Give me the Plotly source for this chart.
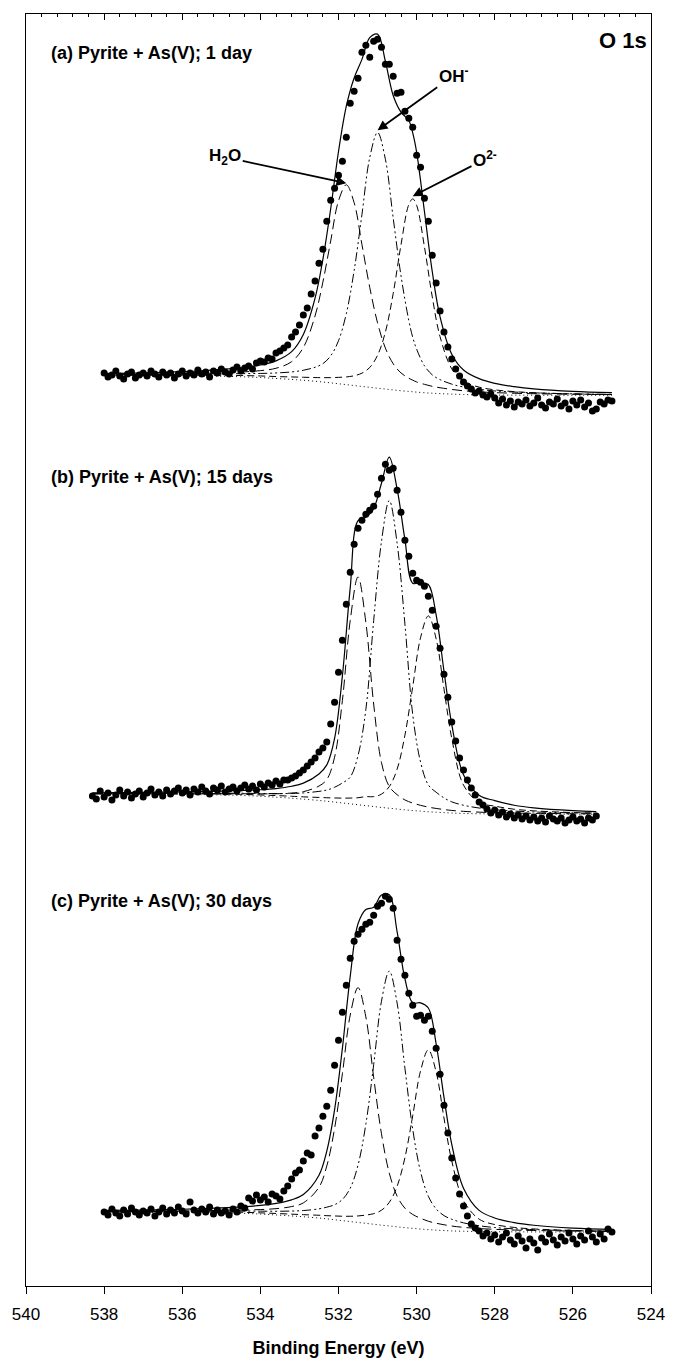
import numpy as np
import plotly.graph_objects as go
from plotly.subplots import make_subplots

# ---------------- O 1s spectra: pyrite + As(V) -----------------
# Measured points are on a 0.1 eV acquisition grid.

# (a) 1 day : 538.0 -> 525.0 eV
A_SCAN = (538.0, 525.0)
A_DATA = [60, 56, 58, 62, 57, 54, 59, 61, 55, 58, 60,
          57, 62, 59, 56, 61, 58, 60, 55, 59, 62,
          57, 60, 58, 63, 59, 61, 56, 62, 60, 64,
          61, 59, 63, 66, 62, 65, 67, 64, 70, 72,
          71, 75, 74, 80, 82, 85, 88, 96, 101, 108,
          118, 125, 139, 152, 170, 184, 212, 233, 245, 258,
          272, 296, 330, 342, 355, 381, 388, 376, 392, 394,
          386, 369, 369, 357, 340, 341, 322, 315, 306, 278,
          266, 235, 212, 178, 150, 122, 101, 86, 74, 64,
          57, 51, 47, 44, 40, 42, 38, 36, 39, 35,
          30, 34, 28, 32, 26, 31, 29, 33, 27, 30,
          35, 28, 25, 31, 29, 34, 27, 30, 24, 32,
          28, 33, 26, 30, 22, 24, 31, 29, 33, 32]

A_CURVE_E = [538.0, 537.0, 536.0, 535.5, 535.0, 534.5, 534.0, 533.6, 533.2, 532.9,
             532.6, 532.4, 532.2, 532.0, 531.8, 531.6, 531.4, 531.2, 531.0, 530.8,
             530.6, 530.4, 530.2, 530.1, 530.0, 529.8, 529.6, 529.4, 529.1, 528.8,
             528.4, 528.0, 527.5, 527.0, 526.0, 525.0]
A_FIT = [59.6, 60.2, 61.4, 62.3, 63.6, 65.3, 68.1, 72.2, 81.4, 98.6,
         134.9, 173.8, 224.4, 281.7, 327.1, 355.3, 373.9, 395.6, 399.2, 372.0,
         337.8, 321.1, 312.8, 300.4, 281.1, 221.7, 161.6, 116.3, 78.9, 63.1,
         54.4, 49.7, 46.4, 44.2, 41.7, 40.4]
A_H2O = [58.4, 58.6, 59.2, 59.6, 60.2, 61.0, 62.4, 64.8, 71.4, 85.6,
         117.2, 151.0, 192.2, 232.3, 248.4, 230.5, 188.6, 145.7, 110.2, 85.0,
         69.3, 60.1, 54.8, 52.9, 51.1, 48.7, 46.7, 45.3, 43.6, 42.3,
         41.2, 40.4, 39.8, 39.3, 38.8, 38.4]
A_OH = [58.3, 58.4, 58.7, 58.9, 59.2, 59.4, 59.6, 60.1, 61.1, 62.8,
        65.8, 69.4, 77.2, 92.3, 119.4, 162.5, 218.6, 275.7, 300.8, 274.0,
        215.1, 157.3, 112.6, 95.8, 83.9, 67.3, 58.2, 53.4, 48.9, 46.0,
        43.7, 42.1, 41.0, 40.2, 39.2, 38.7]
A_O2 = [57.9, 57.8, 57.9, 57.8, 57.8, 57.5, 57.1, 56.5, 56.1, 55.8,
        55.5, 55.4, 55.4, 55.7, 56.1, 57.3, 59.9, 65.6, 77.8, 101.0,
        139.6, 188.3, 228.6, 234.3, 227.9, 186.3, 136.3, 96.4, 64.2, 51.8,
        45.9, 43.2, 41.4, 40.3, 39.1, 38.5]
A_BG = [57.5, 57.3, 57.2, 57.0, 56.8, 56.3, 55.5, 54.6, 53.6, 52.8,
        51.8, 51.0, 50.2, 49.3, 48.4, 47.5, 46.6, 45.7, 44.8, 44.0,
        43.1, 42.3, 41.6, 41.3, 40.9, 40.3, 39.8, 39.4, 38.9, 38.5,
        38.2, 38.0, 37.9, 37.8, 37.7, 37.6]

# (b) 15 days : 538.3 -> 525.4 eV
B_SCAN = (538.3, 525.4)
B_DATA = [66, 63, 71, 65, 69, 62, 67, 72, 66, 70,
          64, 68, 71, 65, 69, 73, 67, 70, 66, 72,
          68, 71, 74, 69, 72, 67, 73, 70, 75, 71,
          68, 74, 72, 76, 70, 73, 75, 71, 74, 77,
          73, 76, 72, 78, 75, 79, 77, 81, 78, 82,
          82, 84, 86, 89, 92, 96, 100, 104, 110, 114,
          120, 138, 160, 190, 222, 258, 290, 318, 334, 342,
          348, 352, 356, 368, 384, 398, 392, 394, 372, 350,
          322, 306, 289, 282, 280, 276, 266, 252, 236, 214,
          188, 165, 140, 121, 104, 92, 82, 74, 67, 60,
          57, 53, 49, 52, 47, 50, 45, 48, 44, 47,
          43, 46, 42, 45, 41, 44, 40, 46, 43, 41,
          44, 39, 42, 45, 41, 43, 39, 44, 42, 46]

B_CURVE_E = [538.3, 537.0, 536.0, 535.5, 535.0, 534.5, 534.0, 533.6, 533.2, 532.9,
             532.5, 532.3, 532.1, 531.9, 531.7, 531.5, 531.3, 531.1, 530.9, 530.7,
             530.5, 530.3, 530.1, 529.9, 529.7, 529.5, 529.3, 529.1, 528.8, 528.4,
             528.0, 527.5, 527.0, 526.0, 525.4]
B_FIT = [69.2, 69.6, 70.1, 70.5, 71.0, 71.6, 72.3, 73.5, 75.8, 78.9,
         88.1, 97.2, 123.8, 186.5, 274.3, 341.6, 345.0, 353.9, 379.0, 405.1,
         373.4, 322.8, 279.0, 279.5, 277.7, 247.1, 191.2, 137.5, 87.3, 66.8,
         61.4, 56.8, 54.2, 51.4, 50.5]
B_H2O = [68.3, 68.3, 68.4, 68.4, 68.4, 68.3, 68.2, 68.3, 69.0, 70.4,
         76.0, 82.5, 104.9, 161.7, 241.7, 285.3, 239.9, 158.1, 99.5, 75.5,
         67.4, 62.1, 59.0, 56.7, 54.9, 53.6, 52.5, 51.6, 50.7, 49.9,
         49.4, 49.0, 48.7, 48.3, 48.1]
B_OH = [68.6, 68.6, 68.7, 68.8, 68.8, 68.8, 68.6, 68.5, 68.6, 69.1,
        70.7, 72.0, 74.8, 79.1, 85.0, 106.6, 152.5, 241.5, 320.8, 361.8,
        319.2, 238.2, 147.6, 100.2, 77.1, 69.8, 64.2, 60.2, 56.8, 54.0,
        52.3, 51.0, 50.1, 49.2, 48.8]
B_O2 = [68.3, 68.3, 68.2, 68.1, 68.0, 67.7, 67.1, 66.5, 65.8, 65.2,
        64.6, 64.3, 64.1, 63.9, 64.0, 64.3, 65.4, 65.4, 67.9, 75.4,
        92.8, 126.9, 175.4, 224.4, 246.3, 223.3, 173.3, 123.7, 77.0, 59.5,
        55.9, 52.8, 51.2, 49.5, 49.0]
B_BG = [68.0, 67.8, 67.6, 67.4, 67.1, 66.6, 65.8, 64.9, 63.8, 62.9,
        61.6, 60.8, 60.0, 59.1, 58.2, 57.3, 56.4, 55.5, 54.6, 53.8,
        53.0, 52.2, 51.5, 50.9, 50.3, 49.8, 49.4, 49.0, 48.6, 48.3,
        48.1, 48.0, 47.9, 47.8, 47.7]

# (c) 30 days : 538.0 -> 525.0 eV
C_SCAN = (538.0, 525.0)
C_DATA = [74, 71, 77, 73, 70, 76, 72, 78, 74, 71, 75,
          73, 77, 70, 74, 78, 72, 76, 73, 79, 75,
          72, 84, 76, 73, 77, 74, 79, 72, 76, 73,
          75, 71, 77, 74, 80, 78, 88, 85, 91, 86,
          89, 84, 92, 90, 87, 95, 100, 107, 113, 116,
          125, 133, 131, 150, 158, 170, 180, 196, 221, 246,
          274, 301, 328, 345, 352, 357, 362, 364, 371, 380,
          383, 390, 387, 378, 346, 327, 311, 293, 281, 270,
          271, 266, 270, 255, 238, 212, 181, 153, 128, 108,
          92, 80, 70, 62, 58, 55, 50, 53, 47, 51,
          44, 49, 53, 46, 42, 50, 45, 38, 47, 43,
          36, 48, 44, 52, 46, 41, 49, 45, 53, 47,
          42, 50, 46, 55, 49, 44, 52, 47, 57, 54]

C_CURVE_E = [538.0, 537.0, 536.0, 535.5, 535.0, 534.5, 534.0, 533.6, 533.2, 532.9,
             532.5, 532.3, 532.1, 531.9, 531.7, 531.5, 531.3, 531.1, 530.9, 530.7,
             530.5, 530.3, 530.1, 529.9, 529.7, 529.5, 529.3, 529.1, 528.8, 528.4,
             528.0, 527.5, 527.0, 526.0, 525.0]
C_FIT = [75.6, 76.0, 76.8, 77.4, 78.2, 79.2, 80.6, 82.6, 86.2, 91.5,
         110.8, 135.0, 176.5, 238.1, 309.8, 362.5, 376.8, 379.1, 391.3, 391.6,
         354.6, 307.5, 283.5, 283.4, 278.2, 242.2, 189.0, 141.7, 97.9, 75.7,
         68.1, 63.4, 60.8, 58.0, 56.6]
C_H2O = [74.7, 74.8, 75.1, 75.3, 75.7, 76.0, 76.5, 77.4, 79.5, 83.2,
         98.8, 120.1, 157.7, 212.5, 271.1, 298.6, 269.3, 208.9, 152.3, 113.0,
         90.0, 77.9, 71.6, 67.8, 64.8, 62.8, 61.3, 60.0, 58.7, 57.5,
         56.7, 56.0, 55.5, 55.0, 54.6]
C_OH = [74.6, 74.6, 74.8, 74.9, 75.0, 75.0, 74.9, 74.8, 75.0, 75.5,
        77.2, 78.9, 81.3, 86.6, 97.9, 121.0, 161.9, 221.4, 285.0, 315.1,
        283.3, 218.0, 156.9, 114.4, 89.8, 77.1, 70.5, 66.8, 63.2, 60.3,
        58.5, 57.2, 56.4, 55.4, 54.9]
C_O2 = [74.3, 74.2, 74.3, 74.2, 74.1, 73.8, 73.2, 72.6, 71.9, 71.4,
        70.8, 70.4, 70.1, 69.8, 69.8, 70.1, 71.0, 72.4, 75.8, 83.7,
        99.7, 128.4, 170.4, 215.2, 236.4, 214.1, 168.2, 125.1, 85.6, 66.9,
        61.5, 58.6, 57.1, 55.6, 54.9]
C_BG = [74.0, 73.8, 73.7, 73.5, 73.3, 72.8, 72.0, 71.1, 70.1, 69.3,
        68.0, 67.2, 66.3, 65.4, 64.5, 63.6, 62.7, 61.8, 60.9, 60.1,
        59.2, 58.4, 57.7, 57.0, 56.4, 55.9, 55.5, 55.1, 54.8, 54.5,
        54.3, 54.2, 54.1, 54.0, 53.9]

PANEL_LABELS = ["(a) Pyrite + As(V); 1 day",
                "(b) Pyrite + As(V); 15 days",
                "(c) Pyrite + As(V); 30 days"]
X_TICKS = [540, 538, 536, 534, 532, 530, 528, 526, 524]
X_TITLE = "Binding Energy (eV)"
REGION = "O 1s"

# ---------------- figure -----------------
W, H = 677, 1366
M_L, M_R, M_T, M_B = 26, 17, 14, 79
PANEL_H = (H - M_T - M_B) / 3.0   # intensity units == panel pixels
PANEL_Y0 = [-5, 0, 0]             # lower edge of each intensity window

FONT = "Liberation Sans, Arial, Helvetica, sans-serif"
BLACK = "#000000"

fig = make_subplots(rows=3, cols=1, shared_xaxes=True, vertical_spacing=0)

panels = [
    (A_SCAN, A_DATA, A_CURVE_E, A_FIT, A_H2O, A_OH, A_O2, A_BG),
    (B_SCAN, B_DATA, B_CURVE_E, B_FIT, B_H2O, B_OH, B_O2, B_BG),
    (C_SCAN, C_DATA, C_CURVE_E, C_FIT, C_H2O, C_OH, C_O2, C_BG),
]

styles = {
    "bg": dict(color=BLACK, width=1, dash="1px,3px"),
    "h2o": dict(color=BLACK, width=1, dash="10px,5px"),
    "oh": dict(color=BLACK, width=1, dash="9px,3px,2px,3px,2px,3px"),
    "o2": dict(color=BLACK, width=1, dash="7px,4px"),
    "fit": dict(color=BLACK, width=1.2),
}

for row, (scan, data, ce, fit, h2o, oh, o2, bg) in enumerate(panels, start=1):
    energies = np.linspace(scan[0], scan[1], len(data))
    for name, ys in (("bg", bg), ("h2o", h2o), ("oh", oh), ("o2", o2)):
        fig.add_trace(go.Scatter(x=ce, y=ys, mode="lines", line_shape="spline",
                                 line=styles[name], showlegend=False,
                                 hoverinfo="skip"), row=row, col=1)
    fig.add_trace(go.Scatter(x=energies, y=data, mode="markers",
                             marker=dict(size=7, color=BLACK),
                             showlegend=False), row=row, col=1)
    fig.add_trace(go.Scatter(x=ce, y=fit, mode="lines", line_shape="spline",
                             line=styles["fit"], showlegend=False,
                             hoverinfo="skip"), row=row, col=1)

    yref = "y" if row == 1 else f"y{row}"
    xref = "x" if row == 1 else f"x{row}"
    fig.add_annotation(x=539.4, y=385 + PANEL_Y0[row - 1], xref=xref, yref=yref,
                       xanchor="left", yanchor="middle", showarrow=False,
                       text=f"<b>{PANEL_LABELS[row - 1]}</b>",
                       font=dict(family=FONT, size=18, color=BLACK))

# region label
fig.add_annotation(x=524.05, y=393, xref="x", yref="y", xanchor="right",
                   yanchor="middle", showarrow=False, text=f"<b>{REGION}</b>",
                   font=dict(family=FONT, size=22, color=BLACK))

# component labels with arrows in panel (a)
arrow_labels = [
    ("<b>H<sub>2</sub>O</b>", 531.8, 250, 534.9, 276),
    ("<b>OH<sup>-</sup></b>", 531.0, 303, 529.05, 358),
    ("<b>O<sup>2-</sup></b>", 530.1, 237, 528.25, 274),
]
for text, x, y, ax, ay in arrow_labels:
    fig.add_annotation(x=x, y=y, ax=ax, ay=ay, xref="x", yref="y",
                       axref="x", ayref="y", text=text, showarrow=True,
                       arrowhead=2, arrowsize=1.1, arrowwidth=1.8,
                       arrowcolor=BLACK, standoff=0,
                       font=dict(family=FONT, size=17, color=BLACK))

# axes
for row in (1, 2, 3):
    y0 = PANEL_Y0[row - 1]
    fig.update_yaxes(range=[y0, y0 + PANEL_H], showline=True, mirror=True,
                     linecolor=BLACK, linewidth=1.3, ticks="",
                     showticklabels=False, showgrid=False, zeroline=False,
                     row=row, col=1)

fig.update_xaxes(range=[540, 524], showgrid=False, zeroline=False,
                 tickvals=X_TICKS)
fig.update_xaxes(side="top", showline=True, linecolor=BLACK, linewidth=1.3,
                 ticks="inside", ticklen=6, tickcolor=BLACK, tickwidth=1,
                 showticklabels=False,
                 minor=dict(ticks="inside", ticklen=3, dtick=0.4, tick0=540,
                            tickcolor=BLACK, tickwidth=1, showgrid=False),
                 row=1, col=1)
fig.update_xaxes(showline=False, ticks="", showticklabels=False, row=2, col=1)
fig.update_xaxes(showline=True, linecolor=BLACK, linewidth=1.3,
                 ticks="outside", ticklen=7, tickcolor=BLACK, tickwidth=1,
                 showticklabels=True, tickvals=X_TICKS,
                 ticktext=[str(v) for v in X_TICKS], ticklabelstandoff=5,
                 tickfont=dict(family=FONT, size=17, color=BLACK),
                 title=dict(text=f"<b>{X_TITLE}</b>", standoff=18,
                            font=dict(family=FONT, size=18, color=BLACK)),
                 row=3, col=1)

fig.update_layout(width=W, height=H,
                  margin=dict(l=M_L, r=M_R, t=M_T, b=M_B),
                  paper_bgcolor="white", plot_bgcolor="white",
                  font=dict(family=FONT, color=BLACK), showlegend=False)

fig.write_html("out.html")
